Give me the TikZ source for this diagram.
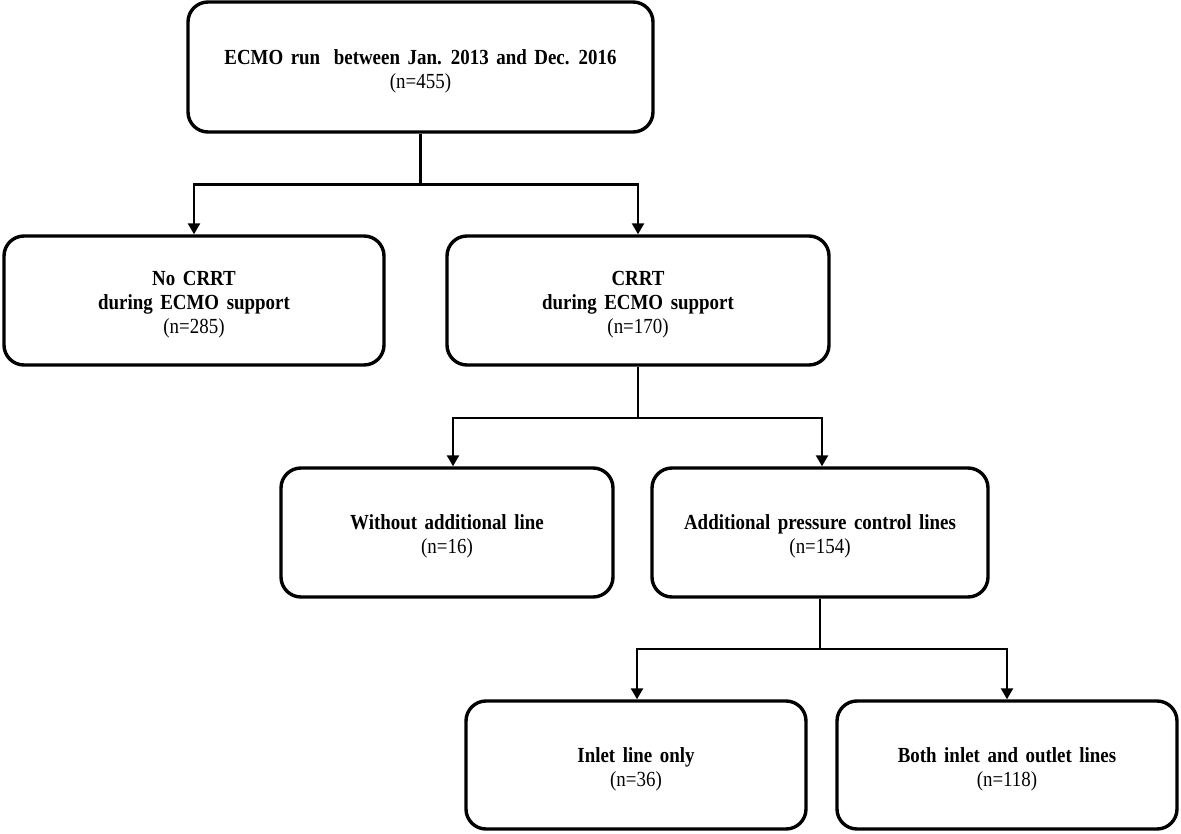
\documentclass[tikz,border=0pt]{standalone}
\usepackage{fontspec}
\setmainfont{Liberation Serif}[FakeStretch=0.88, WordSpace=1.6]
\usetikzlibrary{arrows.meta}
\newcommand{\lowr}{\rule{0pt}{23pt}}
\begin{document}
\begin{tikzpicture}[x=1pt,y=-1pt,
  box/.style={draw=black, line width=3.4pt, rounded corners=20pt, fill=white,
    align=center, inner sep=0pt, minimum height=129pt,
    font=\fontsize{21.5}{24}\selectfont},
  conn/.style={draw=black, line width=2.4pt},
  arr/.style={conn, -{Triangle[width=12pt,length=11pt]}}]
\useasboundingbox (0,0) rectangle (1181,834);
\fill[white] (0,0) rectangle (1181,834);

\node[box, minimum width=465pt, minimum height=130pt] (b1) at (420.5,67)
  {\lowr\textbf{ECMO run\hspace{6pt} between Jan. 2013 and Dec. 2016}\\(n=455)};
\node[box, minimum width=380pt] (b2) at (194,300.5)
  {\lowr\textbf{No CRRT}\\\textbf{during ECMO support}\\(n=285)};
\node[box, minimum width=382pt] (b3) at (638,300.5)
  {\lowr\textbf{CRRT}\\\textbf{during ECMO support}\\(n=170)};
\node[box, minimum width=332pt] (b4) at (447,532.5)
  {\lowr\textbf{Without additional line}\\(n=16)};
\node[box, minimum width=336pt] (b5) at (820,532.5)
  {\lowr\textbf{Additional pressure control lines}\\(n=154)};
\node[box, minimum width=340pt, minimum height=128pt] (b6) at (636,765)
  {\lowr\textbf{Inlet line only}\\(n=36)};
\node[box, minimum width=340pt, minimum height=128pt] (b7) at (1007,765)
  {\lowr\textbf{Both inlet and outlet lines}\\(n=118)};

\draw[conn] (b1.south) -- ++(0,51) coordinate (j1);
\draw[arr] (j1) -| (b2.north);
\draw[arr] (j1) -| (b3.north);

\draw[conn] (b3.south) -- ++(0,51) coordinate (j2);
\draw[arr] (j2) -| ([xshift=6pt]b4.north);
\draw[arr] (j2) -| ([xshift=2pt]b5.north);

\draw[conn] (b5.south) -- ++(0,50) coordinate (j3);
\draw[arr] (j3) -| ([xshift=1pt]b6.north);
\draw[arr] (j3) -| (b7.north);
\end{tikzpicture}
\end{document}
